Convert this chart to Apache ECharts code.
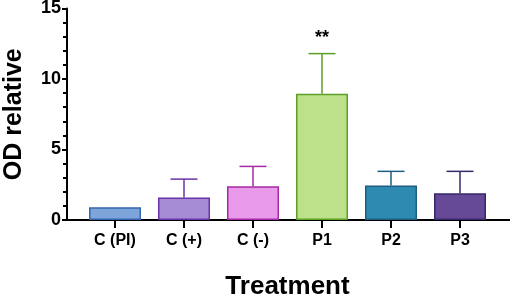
<!DOCTYPE html>
<html>
<head>
<meta charset="utf-8">
<script src="https://cdn.jsdelivr.net/npm/echarts@6/dist/echarts.min.js"></script>
<style>
  html, body { margin: 0; padding: 0; background: #fff; }
  #chart { width: 510px; height: 297px; }
</style>
</head>
<body>
<div id="chart"></div>
<script>
const categories = ['C (PI)', 'C (+)', 'C (-)', 'P1', 'P2', 'P3'];
const means = [0.9, 1.6, 2.4, 8.95, 2.45, 1.9];
const errors = [0, 1.3, 1.4, 2.85, 1.0, 1.55];
const sigMarks = ['', '', '', '**', '', ''];
const yTicks = [0, 5, 10, 15];

const fillColors = ['#7ea5da', '#a68cd5', '#ea9aea', '#bde08b', '#2f8ab2', '#664a97'];
const edgeColors = ['#3566ad', '#6b34a6', '#a42aa4', '#5b9f25', '#1d5e82', '#36286b'];

const FONT = '"Liberation Sans", Arial, sans-serif';

const chart = echarts.init(document.getElementById('chart'));

const option = {
  animation: false,
  textStyle: { fontFamily: FONT },
  grid: [
    { left: 80.5, right: 15.5, top: 8.5, bottom: 77, outerBoundsMode: 'none' },
    { left: 67, right: 0, top: 8.5, bottom: 77, outerBoundsMode: 'none' }
  ],
  xAxis: [
    {
      type: 'category',
      data: categories,
      gridIndex: 0,
      name: 'Treatment',
      nameLocation: 'middle',
      nameGap: 54,
      nameTextStyle: { fontSize: 26, fontWeight: 'bold', color: '#000', fontFamily: FONT },
      axisLine: { show: false },
      axisTick: { show: true, alignWithLabel: true, length: 8, lineStyle: { color: '#000', width: 2 } },
      axisLabel: { fontSize: 16, fontWeight: 'bold', color: '#000', margin: 13, fontFamily: FONT }
    },
    {
      type: 'value',
      gridIndex: 1,
      min: 0,
      max: 1,
      axisLine: { show: true, lineStyle: { color: '#000', width: 2 } },
      axisTick: { show: false },
      axisLabel: { show: false },
      splitLine: { show: false }
    }
  ],
  yAxis: [
    {
      type: 'value',
      gridIndex: 0,
      min: 0,
      max: 15,
      interval: 5,
      offset: 13.5,
      name: 'OD relative',
      nameLocation: 'middle',
      nameGap: 40,
      nameTextStyle: { fontSize: 25, fontWeight: 'bold', color: '#000', fontFamily: FONT },
      axisLine: { show: true, lineStyle: { color: '#000', width: 2 } },
      axisTick: { show: true, length: 5, lineStyle: { color: '#000', width: 2 } },
      minorTick: { show: true, splitNumber: 5, length: 4, lineStyle: { color: '#000', width: 2 } },
      axisLabel: {
        fontSize: 18, fontWeight: 'bold', color: '#000', margin: 6, fontFamily: FONT,
        formatter: v => (yTicks.includes(v) ? String(v) : '')
      },
      splitLine: { show: false }
    },
    {
      type: 'value',
      gridIndex: 1,
      show: false
    }
  ],
  series: [
    {
      type: 'bar',
      xAxisIndex: 0,
      yAxisIndex: 0,
      barWidth: 52,
      data: means.map((v, i) => ({
        value: v,
        itemStyle: { color: fillColors[i], borderColor: edgeColors[i], borderWidth: 1.5 }
      }))
    },
    {
      type: 'custom',
      xAxisIndex: 0,
      yAxisIndex: 0,
      z: 3,
      data: means.map((v, i) => [i, v, errors[i]]),
      renderItem: function (params, api) {
        const i = api.value(0);
        const m = api.value(1);
        const e = api.value(2);
        const base = api.coord([i, m]);
        const top = api.coord([i, m + e]);
        const half = 13.5;
        const color = edgeColors[params.dataIndex];
        const children = [];
        if (e > 0) {
          children.push({
            type: 'line',
            shape: { x1: base[0], y1: base[1], x2: top[0], y2: top[1] },
            style: { stroke: color, lineWidth: 1.5 }
          });
          children.push({
            type: 'line',
            shape: { x1: top[0] - half, y1: top[1], x2: top[0] + half, y2: top[1] },
            style: { stroke: color, lineWidth: 1.5 }
          });
        }
        const sig = sigMarks[params.dataIndex];
        if (sig) {
          children.push({
            type: 'text',
            style: {
              text: sig, x: top[0], y: top[1] - 16,
              align: 'center', verticalAlign: 'middle',
              font: 'bold 18px ' + FONT, fill: '#000'
            }
          });
        }
        return { type: 'group', children: children };
      }
    }
  ]
};

chart.setOption(option);
</script>
</body>
</html>
